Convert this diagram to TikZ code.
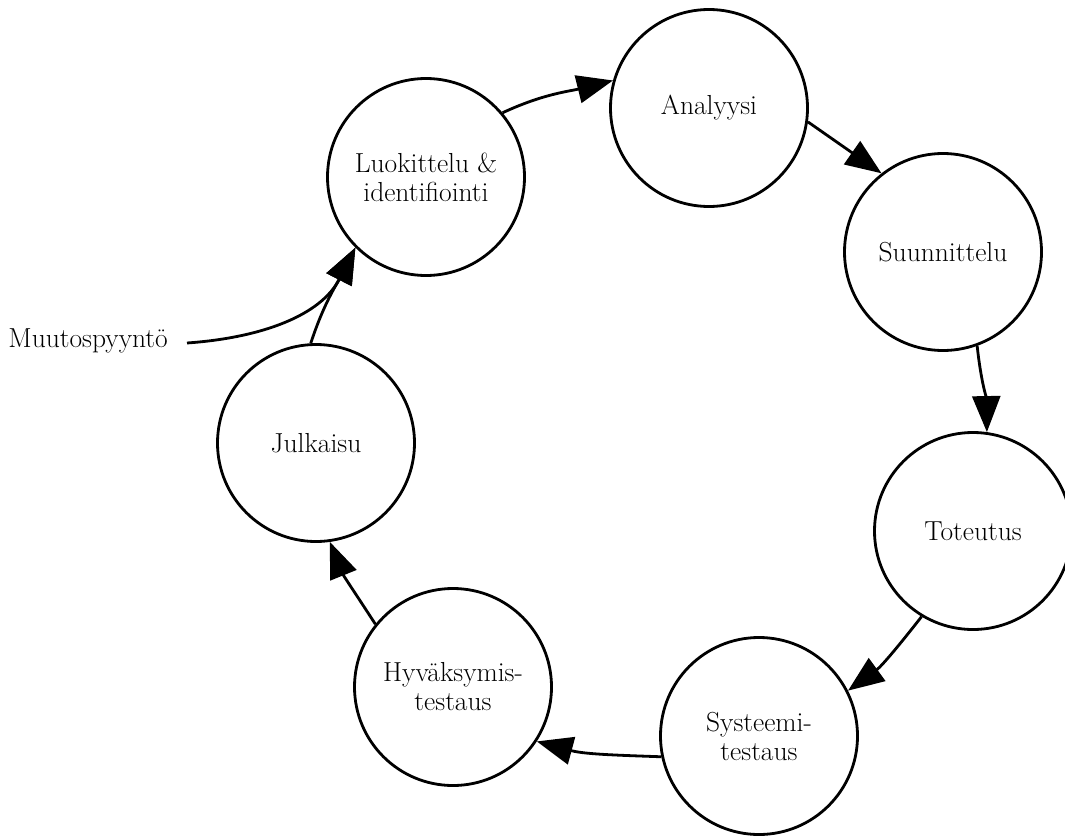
\documentclass[tikz,border=0pt]{standalone}
\usepackage{fontspec}
\usetikzlibrary{arrows.meta}
\begin{document}
\begin{tikzpicture}[x=1pt,y=-1pt,
  phase/.style={circle,draw,line width=2.8pt,minimum size=197pt,inner sep=0pt,align=center,
    font=\fontsize{27.5}{29}\selectfont},
  flow/.style={line width=2.8pt,-{Triangle[length=36pt,width=28pt]}},
  lbl/.style={font=\fontsize{27.5}{29}\selectfont,inner sep=0pt}]
\useasboundingbox (0,0) rectangle (1065,835);
\node[phase] (luok) at (426,177) {Luokittelu \&\\identifiointi};
\node[phase] (anal) at (709,108) {Analyysi};
\node[phase] (suun) at (943,252) {Suunnittelu};
\node[phase] (tote) at (973,531) {Toteutus};
\node[phase] (syst) at (759,736) {Systeemi-\\testaus};
\node[phase] (hyva) at (453,687) {Hyväksymis-\\testaus};
\node[phase] (julk) at (316,443) {Julkaisu};
\node[lbl,anchor=east] (req) at (168,341) {Muutospyyntö};
\coordinate (reqend) at (187,343);
\draw[flow] (luok.40) to[out=25,in=194] (anal.164);
\draw[flow] (anal.-8) -- (suun.128);
\draw[flow] (suun.-70) to[out=-84,in=91] (tote.82);
\draw[flow] (tote.239) to[out=232,in=36] (syst.27);
\draw[flow] (syst.192) to[out=178,in=-15] (hyva.-33);
\draw[flow] (hyva.141) to[out=123,in=-68] (julk.-82);
\draw[flow] (julk.93) to[out=72,in=243] (luok.225);
\draw[flow] (reqend) to[out=4,in=243] (luok.225);
\end{tikzpicture}
\end{document}
